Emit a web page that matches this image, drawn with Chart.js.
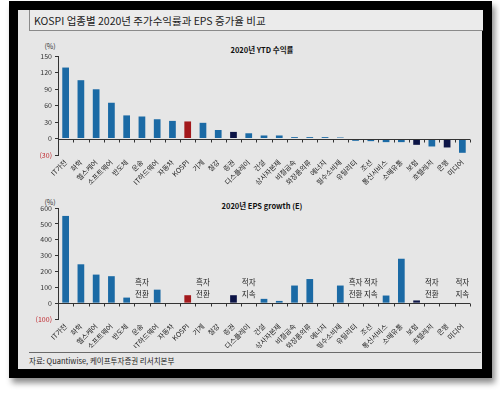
<!DOCTYPE html>
<html>
<head>
<meta charset="utf-8">
<script src="https://cdn.jsdelivr.net/npm/chart.js@4.4.1/dist/chart.umd.min.js"></script>
<style>
  body { margin: 0; background: #fff; width: 500px; height: 395px; position: relative; overflow: hidden;
         font-family: "Noto Sans CJK KR", "Noto Sans", sans-serif; }
  #frame { position: absolute; left: 9px; top: 1px; width: 483px; height: 377px; background: #000;
           box-shadow: 3px 5px 6px rgba(0,0,0,0.45); }
  #panel { position: absolute; left: 18px; top: 10px; width: 464px; height: 359px; background: #e6e6e6; }
  #titleBox { position: absolute; left: 29px; top: 10px; width: 453px; height: 20px;
              border-left: 1px solid #8a8a8a; border-bottom: 1px solid #8a8a8a; background: #ebebeb; }
  #title { position: absolute; left: 34px; top: 13px; font-size: 10.5px; color: #222; white-space: nowrap; }
  .ctitle { position: absolute; font-size: 7.5px; font-weight: bold; color: #111; white-space: nowrap;
            transform: translate(-50%, -50%); }
  .unit { position: absolute; font-size: 7px; color: #333; transform: translate(-50%, -50%); }
  #footLine { position: absolute; left: 29px; top: 352px; width: 452px; height: 1px; background: #6a6a6a; }
  #foot { position: absolute; left: 29px; top: 355px; font-size: 7.5px; color: #222; white-space: nowrap; }
  .box { position: absolute; left: 20px; width: 460px; height: 155px; }
</style>
</head>
<body>
<div id="frame"></div>
<div id="panel"></div>
<div id="titleBox"></div>
<div id="title">KOSPI 업종별 2020년 주가수익률과 EPS 증가율 비교</div>

<div class="ctitle" style="left:262px; top:49px;">2020년 YTD 수익률</div>
<div class="unit" style="left:50px; top:46px;">(%)</div>
<div class="box" style="top:38px;"><canvas id="ytdChart"></canvas></div>

<div class="ctitle" style="left:262px; top:205px;">2020년 EPS growth (E)</div>
<div class="unit" style="left:50px; top:202px;">(%)</div>
<div class="box" style="top:193px;"><canvas id="epsChart"></canvas></div>

<div id="footLine"></div>
<div id="foot">자료: Quantiwise, 케이프투자증권 리서치본부</div>

<script>
// Sectors, in the order shown on both charts
const categories = ['IT가전', '화학', '헬스케어', '소프트웨어', '반도체', '운송', 'IT하드웨어', '자동차', 'KOSPI',
    '기계', '철강', '증권', '디스플레이', '건설', '상사자본재', '비철금속', '화장품의류', '에너지', '필수소비재',
    '유틸리티', '조선', '통신서비스', '소매유통', '보험', '호텔레저', '은행', '미디어'];

// 2020 YTD return (%)
const ytdReturn = [129, 106, 89.5, 65, 42, 40, 35, 32, 31, 28.5, 15.5, 12, 9.5, 5.5, 5.5, 2.5, 2.5, 2.5, 1.8,
    -4.2, -4.8, -6.6, -6.6, -11.5, -14.5, -16.3, -26];

// 2020 EPS growth (E) (%), null where a note is shown instead
const epsGrowth = [550, 245, 180, 170, 35, null, 85, -5, 50, null, null, 50, null, 27, 14, 111, 152, null, 111,
    null, null, 48, 280, 17, null, 3, null];

// Notes written in place of EPS bars
const noteCategories = ['운송', '기계', '디스플레이', '유틸리티', '조선', '호텔레저', '미디어'];
const noteLines = [['흑자', '전환'], ['흑자', '전환'], ['적자', '지속'], ['흑자', '전환'], ['적자', '지속'],
    ['적자', '전환'], ['적자', '지속']];

// Tick settings
const ytdTicks = { min: -30, max: 150, step: 30 };
const epsTicks = { min: -100, max: 600, step: 100 };

const FONT = '"Noto Sans CJK KR", "Noto Sans", sans-serif';

function barColor(name) {
    if (name === 'KOSPI') return '#a3191c';
    if (name === '증권' || name === '보험' || name === '은행') return '#0c1446';
    return '#1b6aa5';
}

/**
 * Zero line with small tick marks between categories
 */
const zeroLine = {
    id: 'zeroLine',
    afterDatasetsDraw(chart) {
        const { ctx, chartArea, scales } = chart;
        const y0 = Math.round(scales.y.getPixelForValue(0)) + 0.5;
        ctx.save();
        ctx.strokeStyle = '#333';
        ctx.lineWidth = 1;
        ctx.beginPath();
        ctx.moveTo(chartArea.left, y0);
        ctx.lineTo(chartArea.right, y0);
        const n = categories.length;
        const half = (scales.x.getPixelForValue(1) - scales.x.getPixelForValue(0)) / 2;
        for (let i = 0; i <= n; i++) {
            const x = Math.round(scales.x.getPixelForValue(i) - half) + 0.5;
            ctx.moveTo(x, y0);
            ctx.lineTo(x, y0 + 3);
        }
        ctx.stroke();
        ctx.restore();
    }
};

/**
 * Text notes (흑자 전환 etc) on the EPS chart
 */
const epsNotes = {
    id: 'epsNotes',
    afterDatasetsDraw(chart) {
        const { ctx, scales } = chart;
        const y0 = scales.y.getPixelForValue(0);
        ctx.save();
        ctx.font = '7.5px ' + FONT;
        ctx.fillStyle = '#222';
        ctx.textAlign = 'center';
        ctx.textBaseline = 'middle';
        noteCategories.forEach((name, i) => {
            const x = scales.x.getPixelForValue(categories.indexOf(name));
            ctx.fillText(noteLines[i][0], x, y0 - 21);
            ctx.fillText(noteLines[i][1], x, y0 - 9);
        });
        ctx.restore();
    }
};

function makeChart(canvasId, values, ticks, padTop, xHeight, extraPlugins) {
    return new Chart(document.getElementById(canvasId), {
        type: 'bar',
        data: {
            labels: categories,
            datasets: [{
                data: values,
                backgroundColor: categories.map(barColor),
                borderWidth: 0,
                barPercentage: 0.44,
                categoryPercentage: 1
            }]
        },
        options: {
            responsive: true,
            maintainAspectRatio: false,
            animation: false,
            layout: { padding: { top: padTop, right: 10, left: 0, bottom: 0 } },
            scales: {
                x: {
                    grid: { display: false, drawTicks: false },
                    border: { display: false },
                    ticks: {
                        autoSkip: false,
                        maxRotation: 45,
                        minRotation: 45,
                        padding: 3,
                        color: '#222',
                        font: { size: 7, family: FONT }
                    },
                    afterFit: s => { s.height = xHeight; }
                },
                y: {
                    min: ticks.min,
                    max: ticks.max,
                    grid: { drawOnChartArea: false, tickLength: 3, color: '#333' },
                    border: { display: true, color: '#333' },
                    ticks: {
                        stepSize: ticks.step,
                        padding: 3,
                        font: { size: 7, family: FONT },
                        color: c => (c.tick.value < 0 ? '#c0272d' : '#333'),
                        callback: v => (v < 0 ? '(' + Math.abs(v) + ')' : v)
                    },
                    afterFit: s => { s.width = 38; }
                }
            },
            plugins: {
                legend: { display: false },
                tooltip: { enabled: false }
            }
        },
        plugins: [zeroLine].concat(extraPlugins)
    });
}

makeChart('ytdChart', ytdReturn, ytdTicks, 18, 38, []);
makeChart('epsChart', epsGrowth, epsTicks, 15, 29, [epsNotes]);
</script>
</body>
</html>
